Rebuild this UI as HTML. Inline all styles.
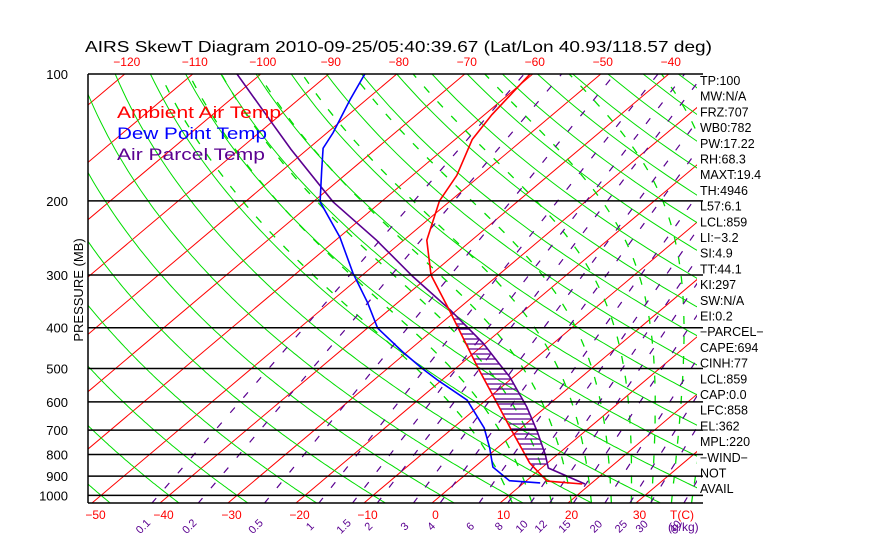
<!DOCTYPE html>
<html><head><meta charset="utf-8"><style>
html,body{margin:0;padding:0;background:#fff;}
svg{display:block;font-family:"Liberation Sans",sans-serif;}
</style></head><body>
<svg id="chart" width="870" height="560" viewBox="0 0 870 560">
<defs><clipPath id="plotclip"><rect x="88" y="74" width="609" height="429"/></clipPath></defs>
<rect width="870" height="560" fill="#fff"/>
<text x="85" y="52" font-size="16" textLength="627" lengthAdjust="spacingAndGlyphs">AIRS SkewT Diagram 2010-09-25/05:40:39.67 (Lat/Lon 40.93/118.57 deg)</text>
<g id="grid" clip-path="url(#plotclip)"></g>
<g id="series" clip-path="url(#plotclip)"></g>
<g id="axes"></g>
<text x="117" y="118" font-size="17" fill="#ff0000" textLength="164" lengthAdjust="spacingAndGlyphs">Ambient Air Temp</text>
<text x="117" y="139" font-size="17" fill="#0000ff" textLength="150" lengthAdjust="spacingAndGlyphs">Dew Point Temp</text>
<text x="117" y="160" font-size="17" fill="#5a0090" textLength="148" lengthAdjust="spacingAndGlyphs">Air Parcel Temp</text>
<text transform="translate(83,290) rotate(-90)" text-anchor="middle" font-size="13">PRESSURE (MB)</text>
<g id="stats"></g>
</svg>
<script>
const ambP=[940,925,838,696,556,496,365,300,248,200,174,143,125,100];
const ambT=[18.8,13.1,7.4,-1.3,-11.7,-17.0,-30.9,-39.9,-46.6,-51.6,-53.5,-57.5,-58.9,-60.4];
const dewP=[934,923,857,772,692,594,532,499,457,401,349,297,244,201,169,150,138,115,100];
const dewT=[12.4,7.5,2.7,-1.1,-5.4,-12.8,-20.7,-25.0,-30.6,-38.5,-44.4,-51.7,-59.9,-69.0,-74.3,-77.9,-79.1,-82.4,-84.7];
const parP=[940,861,802,707,617,524,490,435,363,329,303,248,201,151,132,100];
const parT=[19.2,11.0,8.3,3.1,-2.8,-10.5,-14.1,-20.4,-31.0,-37.1,-42.2,-54.0,-67.1,-82.4,-89.3,-103.5];
const pLevels=[100,200,300,400,500,600,700,800,900,1000];
const bottomTicks=[-50,-40,-30,-20,-10,0,10,20,30];
const topTicks=[-120,-110,-100,-90,-80,-70,-60,-50,-40];
const mixRatios=[0.1,0.2,0.5,1,1.5,2,3,4,6,8,10,12,15,20,25,30,40];
const statLines=["TP:100","MW:N/A","FRZ:707","WB0:782","PW:17.22","RH:68.3","MAXT:19.4","TH:4946","L57:6.1","LCL:859","LI:\u22123.2","SI:4.9","TT:44.1","KI:297","SW:N/A","EI:0.2","\u2212PARCEL\u2212","CAPE:694","CINH:77","LCL:859","CAP:0.0","LFC:858","EL:362","MPL:220","\u2212WIND\u2212","NOT","AVAIL"];

const NS="http://www.w3.org/2000/svg";
const X0=88,X1=697,Y0=74,Y1=503;
function yOf(p){return 74+183*Math.log(p/100);}
function xOf(T,p){return 432+6.8*T+(503-yOf(p))*1.186;}
function mk(tag,attrs,parent){const e=document.createElementNS(NS,tag);for(const k in attrs)e.setAttribute(k,attrs[k]);parent.appendChild(e);return e;}
const grid=document.getElementById('grid'),series=document.getElementById('series'),axes=document.getElementById('axes'),stats=document.getElementById('stats');
function pathFrom(pts){return pts.map((q,i)=>(i?'L':'M')+q[0].toFixed(1)+' '+q[1].toFixed(1)).join(' ');}
const Pbot=1045;
for(let T=-160;T<=50;T+=10){
  const e=mk('line',{x1:xOf(T,Pbot),y1:yOf(Pbot),x2:xOf(T,100),y2:yOf(100),stroke:'#ff0000','stroke-width':1},grid);
  
  
}
for(let th=-60;th<=220;th+=10){
  const pts=[];for(let p=Pbot;p>=99;p-=5){const T=(th+273.15)*Math.pow(p/1000,0.286)-273.15;pts.push([xOf(T,p),yOf(p)]);}
  const e=mk('path',{d:pathFrom(pts),stroke:'#00dd00',fill:'none','stroke-width':1},grid);
  
  
}
function es(T){return 6.112*Math.exp(17.67*T/(T+243.5));}
for(let tw=10;tw<=37;tw+=3){
  let T=tw+273.15;
  const step=(pp,TT,dp)=>{const rs=0.622*es(TT-273.15)/(pp-es(TT-273.15));const L=2.5e6,Rd=287,cp=1004;
    const g=(Rd*TT+L*rs)/(cp+L*L*rs*0.622/(Rd*TT*TT))/pp;return g*dp;};
  let T2=T,p2=1000;while(p2<Pbot){T2+=step(p2,T2,5);p2+=5;}
  const first=[xOf(T2-273.15,p2),yOf(p2)];
  T2=T;p2=1000;const up=[];
  while(p2>100){T2-=step(p2,T2,5);p2-=5;up.push([xOf(T2-273.15,p2),yOf(p2)]);}
  const all=[first,[xOf(tw,1000),yOf(1000)]].concat(up);
  const e=mk('path',{d:pathFrom(all),stroke:'#00dd00',fill:'none','stroke-width':1.3,'stroke-dasharray':'8 12'},grid);
  
  
}
function tOfW(w,p){const e=w*p/(622+w);const l=Math.log(e/6.112);return 243.5*l/(17.67-l);}
for(const w of mixRatios){
  const e=mk('line',{x1:xOf(tOfW(w,Pbot),Pbot),y1:yOf(Pbot),x2:xOf(tOfW(w,100),100),y2:yOf(100),stroke:'#5a0090','stroke-width':1.2,'stroke-dasharray':'7 13'},grid);
  
  
}
for(const p of pLevels){
  if(p===100)continue;
  const e=mk('line',{x1:X0,y1:yOf(p),x2:X1+6,y2:yOf(p),stroke:'#000','stroke-width':1.5},axes);
  
  
}
for(const p of pLevels){
  const t=mk('text',{x:68,y:yOf(p)+5,'text-anchor':'end','font-size':13},axes);t.textContent=p;
  
  
}
[[X0,Y0,X1+6,Y0],[X0,Y0,X0,Y1],[X0,Y1,X1+6,Y1]].forEach(a=>{const e=mk('line',{x1:a[0],y1:a[1],x2:a[2],y2:a[3],stroke:'#000','stroke-width':1.5},axes);
  
  });
for(const T of bottomTicks){
  const t=mk('text',{x:xOf(T,Pbot)+4,y:519,'text-anchor':'middle','font-size':12,fill:'#ff0000'},axes);t.textContent=T<0?'\u2212'+(-T):T;
  
  
}
{const t=mk('text',{x:682,y:519,'text-anchor':'middle','font-size':12,fill:'#ff0000'},axes);t.textContent='T(C)';
 
 }
for(const T of topTicks){
  const t=mk('text',{x:xOf(T,100)+2,y:66,'text-anchor':'middle','font-size':12,fill:'#ff0000'},axes);t.textContent='\u2212'+(-T);
  
  
}
for(const w of mixRatios){
  const x=xOf(tOfW(w,Pbot),Pbot);
  const t=mk('text',{transform:`translate(${x-6},529) rotate(-45)`,'text-anchor':'middle','font-size':11,fill:'#5a0090'},axes);t.textContent=w;
  
  
}
{const t=mk('text',{x:668,y:531,'font-size':12,fill:'#5a0090'},axes);t.textContent='(g/kg)';
 
 }
function interpT(P,T,p){for(let i=0;i<P.length-1;i++){if(p<=P[i]&&p>=P[i+1]){const f=Math.log(P[i]/p)/Math.log(P[i]/P[i+1]);return T[i]+f*(T[i+1]-T[i]);}}return null;}
for(let y=314;y<=467;y+=5){
  const p=100*Math.exp((y-74)/183);const ta=interpT(ambP,ambT,p),tp=interpT(parP,parT,p);
  if(ta===null||tp===null||tp<=ta)continue;
  const e=mk('line',{x1:xOf(ta,p),y1:y,x2:xOf(tp,p),y2:y,stroke:'#5a0090','stroke-width':1.3},series);
  
  
}
function curve(P,T,col,name){const pts=P.map((p,i)=>[xOf(T[i],p),yOf(p)]);
  const e=mk('path',{d:pathFrom(pts),stroke:col,fill:'none','stroke-width':1.6},series);
  
  }
curve(parP,parT,'#5a0090','parcel-temp-line');
curve(dewP,dewT,'#0000ff','dewpoint-line');
curve(ambP,ambT,'#ff0000','ambient-temp-line');
statLines.forEach((s,i)=>{const t=mk('text',{x:700,y:85+i*15.7,'font-size':12.5},stats);t.textContent=s;
  
  });
</script>
</body></html>
